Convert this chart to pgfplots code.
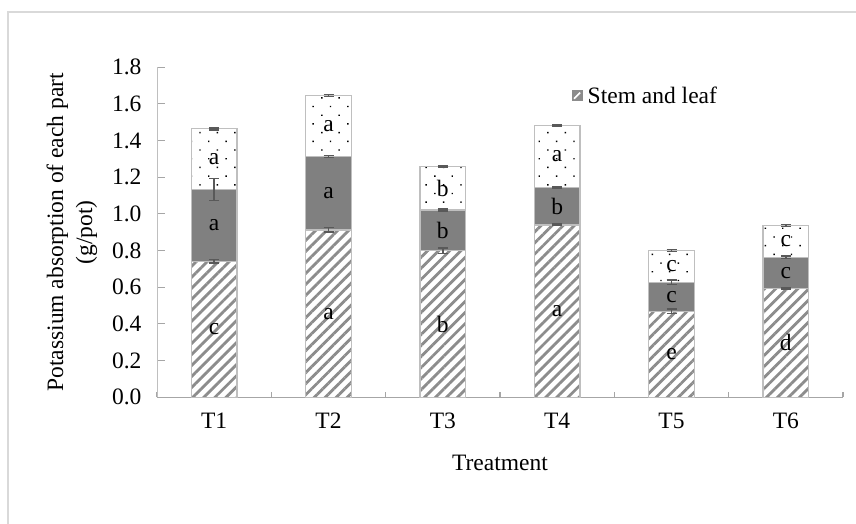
\documentclass[border=0pt]{standalone}
\usepackage{fontspec}
\setmainfont{Liberation Serif}
\usepackage{pgfplots}
\pgfplotsset{compat=1.18}
\usepackage{pgfplotstable}
\usetikzlibrary{patterns.meta}
\definecolor{hatchgray}{HTML}{8C8C8C}
\definecolor{midgray}{HTML}{808080}
\definecolor{edgegray}{HTML}{BFBFBF}
\definecolor{axisgray}{HTML}{A6A6A6}
\definecolor{errgray}{HTML}{595959}
\definecolor{framegray}{HTML}{D9D9D9}
\newcommand\fs{\fontsize{23.5bp}{29bp}\selectfont}

% x: treatment index; h: stem and leaf; m: cumulative top of middle part; t: cumulative total
\pgfplotstableread{
x h m t eh em et
0 0.742 1.133 1.464 0.010 0.060 0.005
1 0.913 1.313 1.646 0.012 0.005 0.006
2 0.800 1.022 1.260 0.015 0.006 0.005
3 0.940 1.146 1.482 0.004 0.005 0.004
4 0.469 0.627 0.800 0.012 0.012 0.005
5 0.595 0.764 0.937 0.005 0.006 0.005
}\data

\begin{document}
\begin{tikzpicture}
\begin{axis}[
  at={(157bp,126.7bp)}, anchor=south west,
  scale only axis, width=686bp, height=330bp,
  xmin=-0.5, xmax=5.5, ymin=0, ymax=1.8,
  clip=false,
  axis x line*=bottom, axis y line*=left,
  x axis line style={draw=axisgray, line width=1.5bp, -},
  y axis line style={draw=edgegray, line width=1bp, -},
  xtick={0,1,2,3,4,5}, xticklabels={T1,T2,T3,T4,T5,T6},
  minor xtick={-0.5,0.5,1.5,2.5,3.5,4.5,5.5},
  major x tick style={draw=none},
  minor x tick style={draw=axisgray, line width=1.2bp},
  ytick={0,0.2,0.4,0.6,0.8,1.0,1.2,1.4,1.6,1.8},
  y tick style={draw=axisgray, line width=1bp},
  tick align=inside,
  major tick length=8bp, minor tick length=5bp,
  tick label style={font=\fs},
  yticklabel style={xshift=-12bp, /pgf/number format/.cd, fixed, fixed zerofill, precision=1, assume math mode=true},
  xticklabel style={yshift=-12bp},
  xlabel={Treatment},
  ylabel={Potassium absorption of each part\\(g/pot)},
  every axis x label/.style={at={(axis description cs:0.5,-0.199)}, anchor=center, font=\fs},
  every axis y label/.style={at={(axis description cs:-0.124,0.5)}, anchor=center, rotate=90, align=center, font=\fs},
  legend style={at={(rel axis cs:0.604,0.914)}, anchor=west, draw=none, fill=none, inner sep=0pt, font=\fs},
  legend cell align=left,
]
% top part (total height), dotted
\addplot[forget plot, ybar, bar width=0.4, bar shift=0pt, draw=edgegray, line width=1.2bp,
  preaction={fill=white}, pattern={Dots[distance=12.3bp, angle=45, radius=1bp]}, pattern color=black]
  table[x=x, y=t] {\data};
% middle part
\addplot[forget plot, ybar, bar width=0.4, bar shift=0pt, draw=edgegray, line width=1.2bp, fill=midgray]
  table[x=x, y=m] {\data};
% stem and leaf, hatched
\addplot[ybar, bar width=0.4, bar shift=0pt, draw=edgegray, line width=1.2bp,
  preaction={fill=white}, pattern={Lines[angle=45, distance=7.8bp, line width=2.8bp]}, pattern color=hatchgray,
  legend image code/.code={
    \fill[hatchgray] (0bp,-5bp) rectangle (10bp,5bp);
    \draw[white, line width=1.6bp] (2bp,-3bp) -- (8bp,3bp);
  }]
  table[x=x, y=h] {\data};
\addlegendentry{\hspace{3bp}Stem and leaf}
% error bars
\addplot[forget plot, draw=none, mark=none, error bars/.cd, y dir=both, y explicit,
  error bar style={draw=errgray, line width=1.5bp},
  error mark options={rotate=90, mark size=5bp, draw=errgray, line width=1.5bp}]
  table[x=x, y=h, y error=eh] {\data};
\addplot[forget plot, draw=none, mark=none, error bars/.cd, y dir=both, y explicit,
  error bar style={draw=errgray, line width=1.5bp},
  error mark options={rotate=90, mark size=5bp, draw=errgray, line width=1.5bp}]
  table[x=x, y=m, y error=em] {\data};
\addplot[forget plot, draw=none, mark=none, error bars/.cd, y dir=both, y explicit,
  error bar style={draw=errgray, line width=1.5bp},
  error mark options={rotate=90, mark size=5bp, draw=errgray, line width=1.5bp}]
  table[x=x, y=t, y error=et] {\data};
% significance letters
\begin{scope}[every node/.style={font=\fs, inner sep=0pt}]
\node at (axis cs:0,0.371) {c};  \node at (axis cs:0,0.937) {a};  \node at (axis cs:0,1.298) {a};
\node at (axis cs:1,0.456) {a};  \node at (axis cs:1,1.113) {a};  \node at (axis cs:1,1.480) {a};
\node at (axis cs:2,0.400) {b};  \node at (axis cs:2,0.911) {b};  \node at (axis cs:2,1.141) {b};
\node at (axis cs:3,0.470) {a};  \node at (axis cs:3,1.043) {b};  \node at (axis cs:3,1.314) {a};
\node at (axis cs:4,0.235) {e};  \node at (axis cs:4,0.548) {c};  \node at (axis cs:4,0.714) {c};
\node at (axis cs:5,0.298) {d};  \node at (axis cs:5,0.680) {c};  \node at (axis cs:5,0.851) {c};
\end{scope}
\end{axis}
\draw[framegray, line width=2bp] (7.5bp,0bp) -- (7.5bp,512bp) -- (856bp,512bp);
\pgfresetboundingbox
\useasboundingbox (0bp,0bp) rectangle (856bp,524bp);
\end{tikzpicture}
\end{document}
